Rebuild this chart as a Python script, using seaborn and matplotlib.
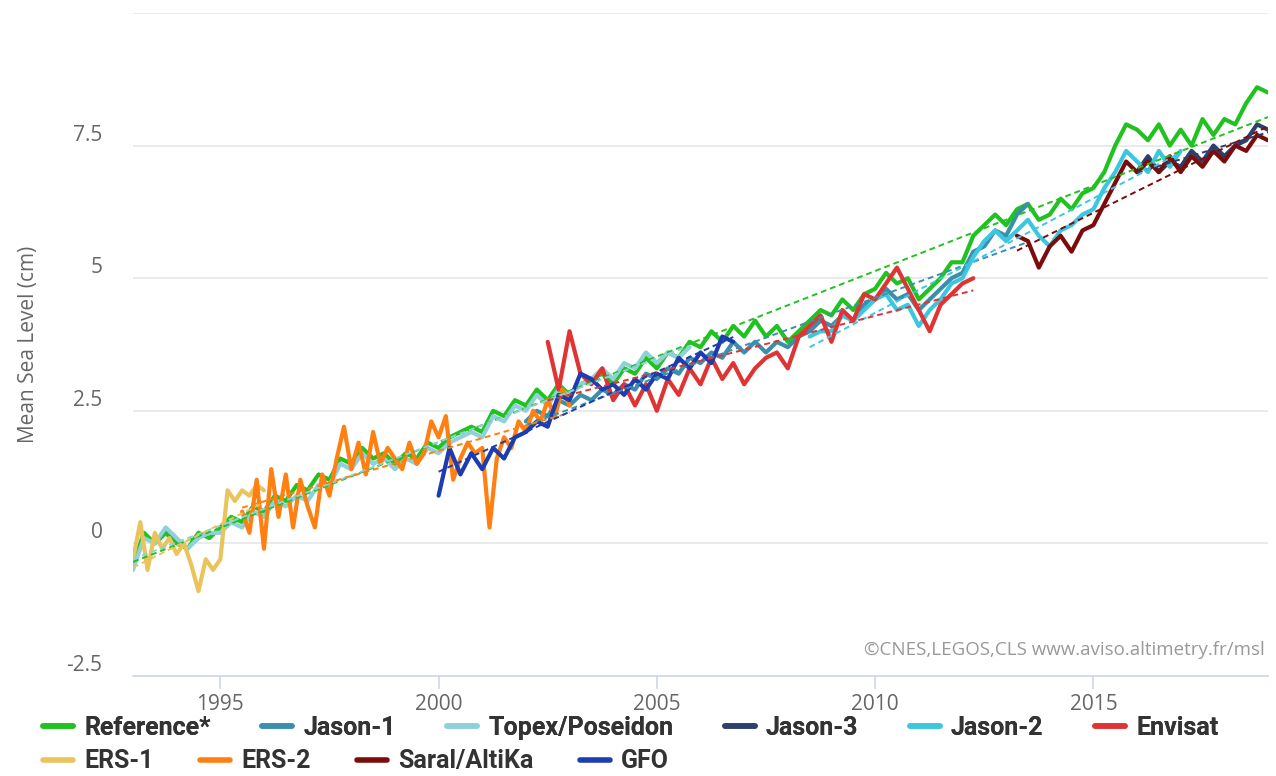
import numpy as np
import pandas as pd
import matplotlib
matplotlib.use('Agg')
import matplotlib.pyplot as plt
import seaborn as sns
from matplotlib.lines import Line2D

# ---- data (cm), quarterly unless noted ----
missions = ['Reference*', 'Jason-1', 'Topex/Poseidon', 'Jason-3', 'Jason-2',
            'Envisat', 'ERS-1', 'ERS-2', 'Saral/AltiKa', 'GFO']

colors = {
    'Reference*': '#1fc21f', 'Jason-1': '#3b8fab', 'Topex/Poseidon': '#8fd0da',
    'Jason-3': '#2c3f6d', 'Jason-2': '#3cc7e0', 'Envisat': '#e03434',
    'ERS-1': '#eac35c', 'ERS-2': '#ff7f10', 'Saral/AltiKa': '#7b0c0c', 'GFO': '#1c3cb0',
}

# start year, step (years)
start = {'Reference*': 1993.0, 'Jason-1': 2002.0, 'Topex/Poseidon': 1993.0,
         'Jason-3': 2016.0, 'Jason-2': 2008.5, 'Envisat': 2002.5,
         'ERS-1': 1993.0, 'ERS-2': 1995.5, 'Saral/AltiKa': 2013.25, 'GFO': 2000.0}
step = {'ERS-1': 1 / 6, 'ERS-2': 1 / 6}

reference = [-0.4, 0.2, 0.0, 0.2, 0.0, -0.1, 0.2, 0.1,
             0.3, 0.5, 0.4, 0.7, 0.6, 0.9, 0.8, 1.1,
             1.0, 1.3, 1.2, 1.6, 1.5, 1.8, 1.6, 1.7,
             1.5, 1.7, 1.6, 1.9, 1.8, 2.0, 2.1, 2.2,
             2.1, 2.5, 2.4, 2.7, 2.6, 2.9, 2.7, 3.0,
             2.8, 3.0, 3.1, 3.2, 3.0, 3.3, 3.2, 3.5,
             3.3, 3.6, 3.5, 3.8, 3.7, 4.0, 3.8, 4.1,
             3.9, 4.2, 3.9, 4.1, 3.8, 4.0, 4.2, 4.4,
             4.3, 4.6, 4.4, 4.7, 4.8, 5.1, 4.9, 5.0,
             4.6, 4.8, 5.0, 5.3, 5.3, 5.8, 6.0, 6.2,
             6.0, 6.3, 6.4, 6.1, 6.2, 6.5, 6.3, 6.6,
             6.7, 7.0, 7.5, 7.9, 7.8, 7.6, 7.9, 7.5,
             7.8, 7.5, 8.0, 7.7, 8.0, 7.9, 8.3, 8.6, 8.5]

topex = [-0.5, 0.1, 0.0, 0.3, 0.1, -0.1, 0.1, 0.2,
         0.2, 0.4, 0.3, 0.6, 0.5, 0.8, 0.7, 0.9,
         0.8, 1.1, 1.1, 1.5, 1.4, 1.7, 1.5, 1.6,
         1.4, 1.6, 1.5, 1.8, 1.7, 1.9, 2.0, 2.1,
         2.0, 2.4, 2.3, 2.6, 2.5, 2.8, 2.6, 2.9,
         2.8, 3.0, 3.1, 3.3, 3.1, 3.4, 3.3, 3.6,
         3.4, 3.6, 3.5, 3.7]

jason1 = [2.3, 2.5, 2.4, 2.7, 2.6, 2.8, 2.7, 2.9,
          2.8, 3.0, 2.9, 3.2, 3.1, 3.3, 3.2, 3.5,
          3.4, 3.6, 3.5, 3.8, 3.6, 3.8, 3.6, 3.8,
          3.7, 3.9, 4.0, 4.2, 4.1, 4.3, 4.2, 4.5,
          4.6, 4.8, 4.6, 4.7, 4.4, 4.6, 4.8, 5.0,
          5.1, 5.5, 5.6, 5.9, 5.8, 6.2, 6.4]

jason2 = [3.9, 4.0, 4.0, 4.3, 4.2, 4.4, 4.6, 4.7, 4.4, 4.5,
          4.1, 4.4, 4.6, 4.9, 5.0, 5.4, 5.7, 5.9,
          5.7, 5.9, 6.1, 5.8, 5.6, 5.9, 6.0, 6.2,
          6.3, 6.7, 7.0, 7.4, 7.2, 7.0, 7.4, 7.1, 7.4]

jason3 = [7.0, 7.3, 7.0, 7.2, 7.1, 7.4, 7.2, 7.5, 7.3, 7.5, 7.6, 7.9, 7.8]

saral = [5.8, 5.7, 5.2, 5.6, 5.8, 5.5, 5.9, 6.0, 6.4, 6.8, 7.2,
         7.0, 7.2, 7.0, 7.3, 7.0, 7.3, 7.1, 7.4, 7.2, 7.5, 7.4, 7.7, 7.6]

envisat = [3.8, 2.9, 4.0, 3.2, 3.0, 3.3, 2.7, 3.0, 2.6, 3.0,
           2.5, 3.1, 2.8, 3.3, 3.0, 3.5, 3.1, 3.4,
           3.0, 3.3, 3.5, 3.6, 3.3, 3.9, 4.1, 4.3,
           3.8, 4.4, 4.2, 4.7, 4.6, 4.9, 5.2, 4.8,
           4.4, 4.0, 4.5, 4.7, 4.9, 5.0]

# ERS-1 and ERS-2 every two months
ers1 = [-0.3, 0.4, -0.5, 0.2, -0.1, 0.1, -0.2, 0.0, -0.4, -0.9,
        -0.3, -0.5, -0.3, 1.0, 0.8, 1.0, 0.9, 1.1, 1.0]

ers2 = [0.6, 0.2, 1.2, -0.1,
        1.4, 0.5, 1.3, 0.3, 1.2, 0.7,
        0.3, 1.3, 0.9, 1.6, 2.2, 1.4,
        1.9, 1.3, 2.1, 1.5, 1.8, 1.6,
        1.4, 1.9, 1.5, 1.7, 2.3, 2.0,
        2.4, 1.2, 1.6, 1.9, 1.7, 1.8,
        0.3, 1.6, 2.0, 1.8, 2.3, 2.1,
        2.5, 2.3, 2.7, 2.4, 2.9, 2.6]

gfo = [0.9, 1.8, 1.3, 1.7, 1.4, 1.8, 1.6, 2.0,
       2.1, 2.3, 2.2, 2.8, 2.7, 3.2, 3.1, 2.9,
       3.0, 2.8, 3.1, 2.9, 3.2, 3.1, 3.5, 3.3,
       3.6, 3.4, 3.9, 3.8]

values = {'Reference*': reference, 'Jason-1': jason1, 'Topex/Poseidon': topex,
          'Jason-3': jason3, 'Jason-2': jason2, 'Envisat': envisat,
          'ERS-1': ers1, 'ERS-2': ers2, 'Saral/AltiKa': saral, 'GFO': gfo}

frames = []
for m in missions:
    v = values[m]
    yrs = start[m] + step.get(m, 0.25) * np.arange(len(v))
    frames.append(pd.DataFrame({'year': yrs, 'msl': v, 'mission': m}))
df = pd.concat(frames, ignore_index=True)

# ---- plot ----
sns.set_style('white')
plt.rcParams['font.family'] = ['Open Sans', 'DejaVu Sans']

fig = plt.figure(figsize=(12.76, 7.76), dpi=100)
ax = fig.add_axes([133 / 1276, 1 - 676 / 776, 1135 / 1276, 663 / 776])

for i, m in enumerate(missions):
    sub = df[df['mission'] == m]
    sns.lineplot(data=sub, x='year', y='msl', color=colors[m], linewidth=3,
                 estimator=None, ax=ax, zorder=3 + i, legend=False)
for i, m in enumerate(missions):
    sub = df[df['mission'] == m]
    sns.regplot(data=sub, x='year', y='msl', scatter=False, ci=None, truncate=True,
                ax=ax, line_kws=dict(color=colors[m], lw=1.4, ls=(0, (3, 2)), zorder=20 + i))

ax.set_xlim(1993, 2019)
ax.set_ylim(-2.5, 10)
ax.set_yticks([-2.5, 0, 2.5, 5, 7.5, 10])
ax.set_yticklabels(['-2.5', '0', '2.5', '5', '7.5', ''])
ax.set_xticks([1995, 2000, 2005, 2010, 2015])
ax.set_xticklabels(['1995', '2000', '2005', '2010', '2015'])
ax.grid(axis='y', color='#e6e6e6', lw=1.2)
ax.grid(axis='x', visible=False)
for s in ['top', 'right', 'left']:
    ax.spines[s].set_visible(False)
ax.spines['bottom'].set_color('#ccd6eb')
ax.spines['bottom'].set_linewidth(1.2)
ax.tick_params(axis='x', length=9, color='#ccd6eb', width=1.2, pad=4,
               labelsize=15, labelcolor='#666666', bottom=True)
ax.tick_params(axis='y', length=0, pad=22, labelsize=15, labelcolor='#666666')
for lab in ax.get_yticklabels():
    lab.set_verticalalignment('bottom')
ax.set_xlabel('')
ax.set_ylabel('Mean Sea Level (cm)', fontsize=15, color='#666666', labelpad=20)

ax.text(0.997, 0.025, '\u00a9CNES,LEGOS,CLS www.aviso.altimetry.fr/msl', transform=ax.transAxes,
        ha='right', va='bottom', fontsize=13.5, color='#999999')

# legend, two rows like the original
def handles(names):
    return [Line2D([], [], color=colors[n], lw=4) for n in names]

row1 = missions[:6]
row2 = missions[6:]
legfont = dict(family=['Roboto', 'DejaVu Sans'], weight='bold', size=18)
leg1 = fig.legend(handles(row1), row1, loc='center left', bbox_to_anchor=(0.02, 0.062),
                  ncol=6, frameon=False, prop=legfont, handlelength=1.2,
                  handletextpad=0.45, columnspacing=2.05, labelcolor='#333333',
                  borderpad=0.2)
fig.add_artist(leg1)
fig.legend(handles(row2), row2, loc='center left', bbox_to_anchor=(0.02, 0.019),
           ncol=4, frameon=False, prop=legfont, handlelength=1.2,
           handletextpad=0.45, columnspacing=1.85, labelcolor='#333333',
           borderpad=0.2)

fig.savefig('out.png', dpi=100, facecolor='white')
